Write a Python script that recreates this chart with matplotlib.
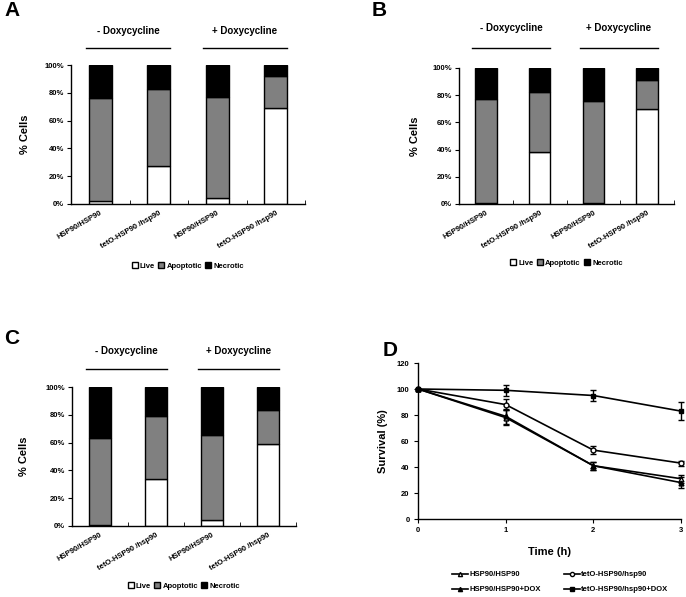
import matplotlib
matplotlib.use('Agg')
import matplotlib.pyplot as plt
from matplotlib.lines import Line2D
import numpy as np

plt.rcParams.update({
    'font.family': ['Liberation Sans', 'DejaVu Sans'],
    'font.weight': 'bold',
    'font.size': 6,
    'axes.linewidth': 1.0,
})

# ---- data ----
categories = ['HSP90/HSP90', 'tetO-HSP90 /hsp90', 'HSP90/HSP90', 'tetO-HSP90 /hsp90']
# stacked percentages: live, apoptotic, necrotic
live_A = [2, 27, 4, 69]
apop_A = [74, 56, 73, 23]
necr_A = [24, 17, 23, 8]

live_B = [1, 38, 0.5, 70]
apop_B = [76, 44, 75.5, 21.5]
necr_B = [23, 18, 24, 8.5]

live_C = [0.5, 33.5, 4, 59]
apop_C = [63, 45.5, 61.5, 24.5]
necr_C = [36.5, 21, 34.5, 16.5]

time_h = [0, 1, 2, 3]
surv_wt = [100, 78, 41, 31]
err_wt = [0, 6, 3, 3]
surv_tet = [100, 88, 53, 43]
err_tet = [0, 4, 3, 2]
surv_wt_dox = [100, 79, 41, 28]
err_wt_dox = [0, 6, 3, 4]
surv_tet_dox = [100, 99, 95, 83]
err_tet_dox = [0, 4, 4, 7]

W, H = 686, 597
fig = plt.figure(figsize=(W / 100, H / 100), dpi=100)


def px_axes(l, t, r, b):
    return fig.add_axes([l / W, (H - b) / H, (r - l) / W, (b - t) / H])


def bar_panel(ax, live, apop, necr, line_y, text_y, leg_y, ylab_x):
    x = np.arange(len(categories))
    w = 0.4
    ax.bar(x, live, w, color='white', edgecolor='black', lw=1.0, label='Live')
    ax.bar(x, apop, w, bottom=live, color='#808080', edgecolor='black', lw=1.0,
           label='Apoptotic')
    ax.bar(x, necr, w, bottom=np.add(live, apop), color='black', edgecolor='black',
           lw=1.0, label='Necrotic')
    ax.set_xlim(-0.5, 3.5)
    ax.set_ylim(0, 100)
    ax.set_yticks([0, 20, 40, 60, 80, 100])
    ax.set_yticklabels([f'{v}%' for v in [0, 20, 40, 60, 80, 100]], fontsize=5.5)
    ax.set_xticks(x)
    ax.set_xticklabels(categories, rotation=30, ha='right', rotation_mode='anchor',
                       fontsize=5.5)
    ax.set_xticks([0.5, 1.5, 2.5, 3.5], minor=True)
    ax.tick_params(axis='x', which='major', length=0, pad=4)
    ax.tick_params(axis='x', which='minor', length=3, direction='in')
    ax.tick_params(axis='y', length=3, direction='out', pad=2)
    for s in ['top', 'right']:
        ax.spines[s].set_visible(False)
    ax.set_ylabel('% Cells', fontsize=8, fontweight='bold')
    ax.yaxis.set_label_coords(ylab_x, 0.5)
    trans = ax.get_xaxis_transform()
    for (x0, x1), txt in zip([(-0.25, 1.2), (1.75, 3.2)], ['- Doxycycline', '+ Doxycycline']):
        ax.add_line(Line2D([x0, x1], [line_y, line_y], color='black', lw=1.0,
                           transform=trans, clip_on=False))
        ax.text((x0 + x1) / 2, text_y, txt, transform=trans, ha='center', va='center',
                fontsize=7, fontweight='bold')
    ax.legend(loc='center', bbox_to_anchor=(0.5, leg_y), ncol=3, frameon=False,
              handlelength=0.8, handleheight=0.8, handletextpad=0.3, columnspacing=0.4,
              fontsize=5.5)


axA = px_axes(71, 65, 305, 204)
bar_panel(axA, live_A, apop_A, necr_A, 1.122, 1.245, -0.446, -0.175)
axB = px_axes(459, 68, 674, 204)
bar_panel(axB, live_B, apop_B, necr_B, 1.147, 1.294, -0.434, -0.18)
axC = px_axes(72, 387, 296, 526)
bar_panel(axC, live_C, apop_C, necr_C, 1.13, 1.259, -0.43, -0.19)

# ---- panel D ----
axD = px_axes(418, 363, 681, 519)
series = [
    (surv_wt, err_wt, '^', 'white', 'HSP90/HSP90'),
    (surv_tet, err_tet, 'o', 'white', 'tetO-HSP90/hsp90'),
    (surv_wt_dox, err_wt_dox, '^', 'black', 'HSP90/HSP90+DOX'),
    (surv_tet_dox, err_tet_dox, 's', 'black', 'tetO-HSP90/hsp90+DOX'),
]
handles = {}
for y, e, m, fc, lab in series:
    axD.errorbar(time_h, y, yerr=e, color='black', lw=1.2, marker=m, ms=3.5,
                 mfc=fc, mec='black', capsize=2.5, elinewidth=1.0,
                 clip_on=False, zorder=3)
    handles[lab] = Line2D([], [], color='black', lw=1.2, marker=m, ms=3,
                          mfc=fc, mec='black', label=lab)
axD.set_xlim(0, 3)
axD.set_ylim(0, 120)
axD.set_xticks([0, 1, 2, 3])
axD.set_yticks([0, 20, 40, 60, 80, 100, 120])
axD.tick_params(length=3, direction='out', pad=3, labelsize=5.5)
for s in ['top', 'right']:
    axD.spines[s].set_visible(False)
axD.set_xlabel('Time (h)', fontsize=8, fontweight='bold')
axD.xaxis.set_label_coords(0.5, -0.18)
axD.set_ylabel('Survival (%)', fontsize=8, fontweight='bold')
axD.yaxis.set_label_coords(-0.114, 0.5)
order = ['HSP90/HSP90', 'HSP90/HSP90+DOX', 'tetO-HSP90/hsp90', 'tetO-HSP90/hsp90+DOX']
axD.legend(handles=[handles[k] for k in order], loc='center',
           bbox_to_anchor=(0.54, -0.405), ncol=2, frameon=False,
           fontsize=5.5, handlelength=2.2, handletextpad=0.1, columnspacing=3.0,
           labelspacing=1.0)

# panel letters
for lbl, x, y in [('A', 4, 10), ('B', 372, 10), ('C', 4, 338), ('D', 383, 350)]:
    fig.text(x / W, 1 - y / H, lbl, fontsize=15, fontweight='bold', va='center')

plt.savefig('out.png', dpi=100)
